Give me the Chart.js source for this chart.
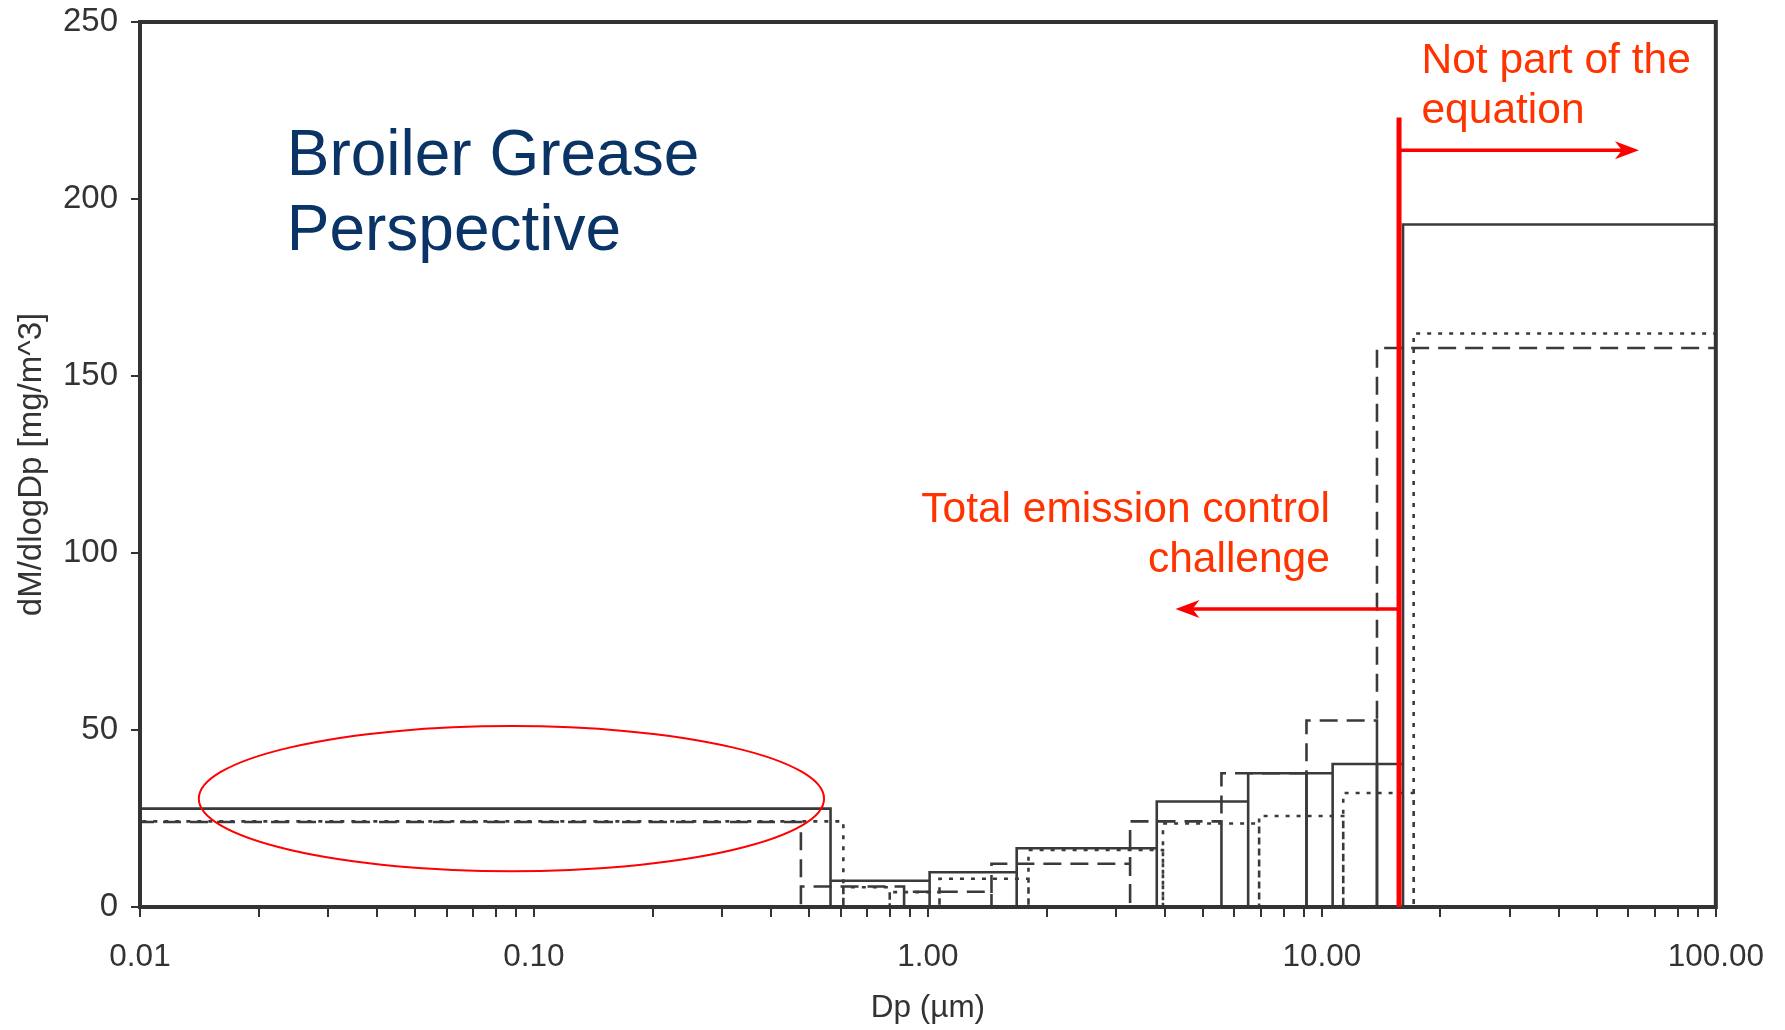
<!DOCTYPE html>
<html>
<head>
<meta charset="utf-8">
<title>Broiler Grease Perspective</title>
<script src="https://cdn.jsdelivr.net/npm/chart.js@4.4.1/dist/chart.umd.min.js"></script>
<style>
  html, body { margin: 0; padding: 0; background: #ffffff; }
  #wrap { width: 1785px; height: 1030px; position: relative; }
</style>
</head>
<body>
<div id="wrap"><canvas id="psd"></canvas></div>
<script>
// bin edges (µm) and dM/dlogDp heights for the three runs
const solidEdges  = [0.01, 0.566, 1.01, 1.68, 3.81, 6.50, 9.14, 10.65, 13.8, 16.07, 100];
const solidValues = [27.8, 7.4, 9.8, 16.6, 29.8, 37.8, 37.8, 40.4, 40.4, 192.8];

const dashedEdges  = [0.01, 0.476, 0.87, 1.45, 3.26, 5.56, 9.14, 13.8, 100];
const dashedValues = [24.0, 5.8, 4.3, 12.2, 24.2, 37.8, 52.7, 157.9];

const dottedEdges  = [0.01, 0.61, 0.80, 1.07, 1.80, 3.95, 6.93, 11.33, 17.1, 100];
const dottedValues = [24.2, 5.6, 4.2, 8.0, 16.1, 23.6, 25.7, 32.2, 162.0];

const xTickValues = [0.01, 0.1, 1, 10, 100];
const xTickLabels = ['0.01', '0.10', '1.00', '10.00', '100.00'];

// cut-off line between "challenge" and "not part of the equation"
const cutoffDp = 15.7;

const AXIS = '#333333';
const RED = '#ff0000';
const RED_TEXT = '#ff3300';
const NAVY = '#0a3366';
const FONT = '"Liberation Sans", Arial, sans-serif';

// turn edges + heights into an outline of bars standing on the axis
function outline(edges, values) {
  const pts = [];
  for (let i = 0; i < values.length; i++) {
    pts.push({x: edges[i], y: 0});
    pts.push({x: edges[i], y: values[i]});
    pts.push({x: edges[i + 1], y: values[i]});
    pts.push({x: edges[i + 1], y: 0});
  }
  return pts;
}

function arrow(ctx, x0, y0, x1, y1) {
  const dir = Math.sign(x1 - x0);
  ctx.beginPath();
  ctx.moveTo(x0, y0);
  ctx.lineTo(x1 - dir * 10, y1);
  ctx.stroke();
  ctx.beginPath();
  ctx.moveTo(x1, y1);
  ctx.lineTo(x1 - dir * 24, y1 - 9);
  ctx.lineTo(x1 - dir * 17, y1);
  ctx.lineTo(x1 - dir * 24, y1 + 9);
  ctx.closePath();
  ctx.fill();
}

const notes = {
  id: 'notes',
  afterDatasetsDraw(chart) {
    const {ctx, chartArea: a, scales: {x, y}} = chart;
    ctx.save();

    // frame
    ctx.strokeStyle = AXIS;
    ctx.lineWidth = 4;
    ctx.strokeRect(a.left, a.top, a.right - a.left, a.bottom - a.top);

    // ellipse around the fine fraction
    const ex0 = x.getPixelForValue(0.0141), ex1 = x.getPixelForValue(0.545);
    const ey0 = y.getPixelForValue(51.1), ey1 = y.getPixelForValue(10.1);
    ctx.strokeStyle = RED;
    ctx.lineWidth = 2;
    ctx.beginPath();
    ctx.ellipse((ex0 + ex1) / 2, (ey0 + ey1) / 2, (ex1 - ex0) / 2, (ey1 - ey0) / 2, 0, 0, Math.PI * 2);
    ctx.stroke();

    // cut-off line
    const cx = x.getPixelForValue(cutoffDp);
    ctx.lineWidth = 5;
    ctx.beginPath();
    ctx.moveTo(cx, y.getPixelForValue(0));
    ctx.lineTo(cx, y.getPixelForValue(223));
    ctx.stroke();

    ctx.fillStyle = RED;
    ctx.lineWidth = 3.5;
    arrow(ctx, cx, y.getPixelForValue(213.8), x.getPixelForValue(63.8), y.getPixelForValue(213.8));
    arrow(ctx, cx, y.getPixelForValue(84.2), x.getPixelForValue(4.25), y.getPixelForValue(84.2));

    // texts
    ctx.textBaseline = 'alphabetic';
    ctx.font = '42.5px ' + FONT;
    ctx.fillStyle = RED_TEXT;
    ctx.textAlign = 'left';
    ctx.fillText('Not part of the', x.getPixelForValue(17.9), y.getPixelForValue(235.5));
    ctx.fillText('equation', x.getPixelForValue(17.9), y.getPixelForValue(221.4));
    ctx.textAlign = 'right';
    ctx.fillText('Total emission control', x.getPixelForValue(10.48), y.getPixelForValue(108.8));
    ctx.fillText('challenge', x.getPixelForValue(10.48), y.getPixelForValue(94.7));

    ctx.font = '64px ' + FONT;
    ctx.fillStyle = NAVY;
    ctx.textAlign = 'left';
    ctx.fillText('Broiler Grease', x.getPixelForValue(0.02357), y.getPixelForValue(206.8));
    ctx.fillText('Perspective', x.getPixelForValue(0.02357), y.getPixelForValue(185.6));

    ctx.restore();
  }
};

const lineStyle = {
  showLine: true,
  pointRadius: 0,
  borderColor: '#3a3a3a',
  borderWidth: 2.6,
  fill: false,
  tension: 0
};

new Chart(document.getElementById('psd'), {
  type: 'scatter',
  data: {
    datasets: [
      Object.assign({label: 'run 1', data: outline(solidEdges, solidValues)}, lineStyle),
      Object.assign({label: 'run 2', data: outline(dashedEdges, dashedValues), borderDash: [18, 9]}, lineStyle),
      Object.assign({label: 'run 3', data: outline(dottedEdges, dottedValues), borderDash: [4, 7]}, lineStyle)
    ]
  },
  options: {
    responsive: true,
    maintainAspectRatio: false,
    animation: false,
    layout: {padding: {top: 22, right: 69, left: 0, bottom: 0}},
    plugins: {
      legend: {display: false},
      tooltip: {enabled: false}
    },
    scales: {
      x: {
        type: 'logarithmic',
        min: 0.01,
        max: 100,
        afterFit(scale) { scale.height = 123; },
        afterBuildTicks(scale) {
          const t = [];
          for (let k = -2; k < 2; k++) {
            for (let m = 1; m < 10; m++) t.push({value: m * Math.pow(10, k)});
          }
          t.push({value: 100});
          scale.ticks = t;
        },
        ticks: {
          autoSkip: false,
          maxRotation: 0,
          padding: 21,
          color: AXIS,
          font: {family: FONT, size: 31.5},
          callback(value) {
            const i = xTickValues.findIndex(v => Math.abs(v - value) / v < 1e-6);
            return i >= 0 ? xTickLabels[i] : '';
          }
        },
        grid: {drawOnChartArea: false, tickLength: 10, color: AXIS, lineWidth: 2},
        border: {display: true, color: AXIS, width: 4},
        title: {
          display: true,
          text: 'Dp (µm)',
          color: AXIS,
          font: {family: FONT, size: 31.5},
          padding: {top: 0, bottom: 3}
        }
      },
      y: {
        min: 0,
        max: 250,
        afterFit(scale) {
          scale.width = 140;
          scale.paddingTop = 0;
          scale.paddingBottom = 0;
        },
        ticks: {
          stepSize: 50,
          padding: 13,
          color: AXIS,
          font: {family: FONT, size: 33}
        },
        grid: {drawOnChartArea: false, tickLength: 9, color: AXIS, lineWidth: 2},
        border: {display: true, color: AXIS, width: 4},
        title: {
          display: true,
          text: 'dM/dlogDp [mg/m^3]',
          color: AXIS,
          font: {family: FONT, size: 33},
          padding: {top: 12, bottom: 0}
        }
      }
    }
  },
  plugins: [notes]
});
</script>
</body>
</html>
